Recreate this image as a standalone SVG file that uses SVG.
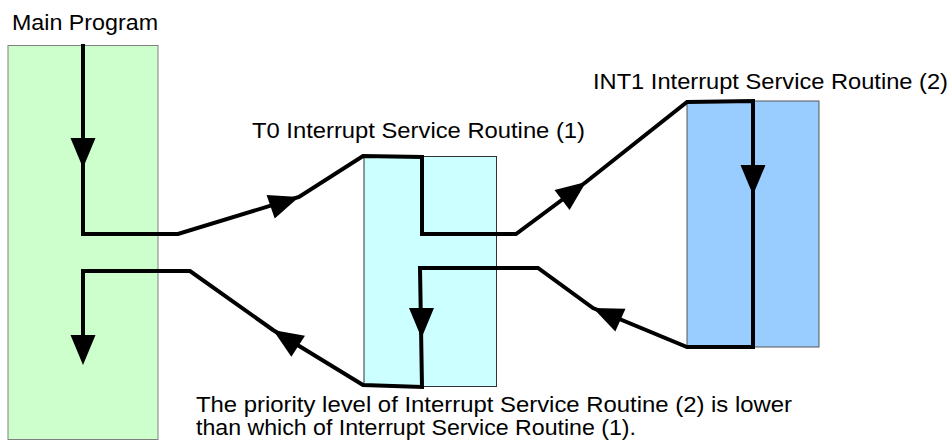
<svg xmlns="http://www.w3.org/2000/svg" xmlns:xlink="http://www.w3.org/1999/xlink" width="952" height="445" viewBox="0 0 952 445">
<style>
text{font-family:"Liberation Sans",Arial,sans-serif;font-size:22px;fill:#000}
.flow{fill:none;stroke:#000;stroke-width:4;stroke-linejoin:miter}
</style>
<defs>
<path id="ah" d="M0,0 L-30,-12.5 L-30,12.5 Z" fill="#000"/>
</defs>
<rect width="952" height="445" fill="#fff"/>
<g id="main">
<rect x="8" y="45.5" width="150" height="394" fill="#ccffcc" stroke="#808080" stroke-width="1"/>
<text x="12" y="30" textLength="146" lengthAdjust="spacingAndGlyphs">Main Program</text>
</g>
<g id="t0">
<rect x="364" y="156.5" width="132.5" height="230" fill="#ccffff" stroke="#333" stroke-width="1"/>
<text x="252" y="138" textLength="333" lengthAdjust="spacingAndGlyphs">T0 Interrupt Service Routine (1)</text>
</g>
<g id="int1">
<rect x="687" y="101" width="132" height="246" fill="#99ccff" stroke="#555" stroke-width="1"/>
<text x="593" y="89" textLength="355" lengthAdjust="spacingAndGlyphs">INT1 Interrupt Service Routine (2)</text>
</g>
<g id="note">
<text x="196" y="412" textLength="596" lengthAdjust="spacingAndGlyphs">The priority level of Interrupt Service Routine (2) is lower</text>
<text x="196" y="435" textLength="440" lengthAdjust="spacingAndGlyphs">than which of Interrupt Service Routine (1).</text>
</g>
<g id="connectors">
<polyline class="flow" points="83,44 83,234 178,234 299,197 363,156 422,157 422,234 516,234 586,182 687,102 753,101 753,347 687,347 593,308 538,268 420,268 422,387 363,385 273,330 190,271 83,271 83,340"/>
<use xlink:href="#ah" transform="translate(83,168) rotate(90)"/>
<use xlink:href="#ah" transform="translate(299,197) rotate(-19)"/>
<use xlink:href="#ah" transform="translate(586,182) rotate(-37)"/>
<use xlink:href="#ah" transform="translate(753,195) rotate(90)"/>
<use xlink:href="#ah" transform="translate(593,308) rotate(204)"/>
<use xlink:href="#ah" transform="translate(421.5,338) rotate(90)"/>
<use xlink:href="#ah" transform="translate(273,330) rotate(213)"/>
<use xlink:href="#ah" transform="translate(83,365) rotate(90)"/>
</g>
</svg>
